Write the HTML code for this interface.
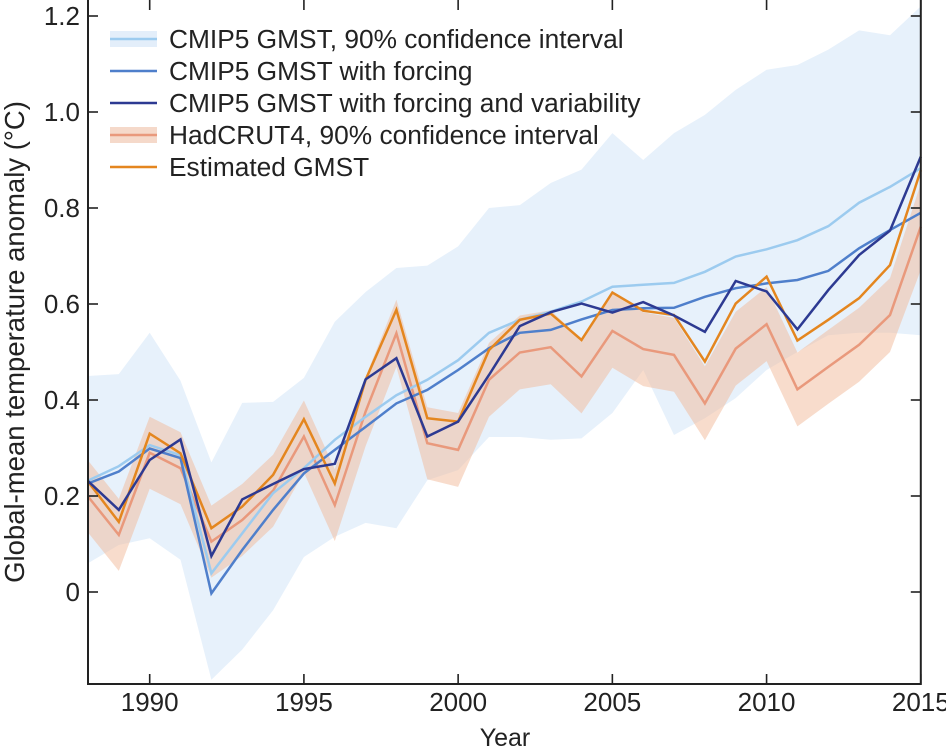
<!DOCTYPE html>
<html><head><meta charset="utf-8"><style>
body{margin:0;background:#fff}
svg{display:block;font-family:"Liberation Sans",Arial,sans-serif}
</style></head><body>
<svg id="chart" width="946" height="747">
<g id="bands"></g>
<g id="lines"></g>
<g id="axes"></g>
<g id="legend"></g>
<text x="505" y="746" font-size="25" text-anchor="middle" fill="#222">Year</text>
<text transform="translate(24,342) rotate(-90)" font-size="27.5" text-anchor="middle" fill="#222">Global-mean temperature anomaly (°C)</text>
</svg>
<script>
const years=[1988,1989,1990,1991,1992,1993,1994,1995,1996,1997,1998,1999,2000,2001,2002,2003,2004,2005,2006,2007,2008,2009,2010,2011,2012,2013,2014,2015];
const cmipMean=[0.232,0.262,0.306,0.285,0.039,0.122,0.206,0.258,0.317,0.365,0.41,0.442,0.483,0.54,0.567,0.584,0.605,0.636,0.64,0.644,0.667,0.699,0.714,0.733,0.762,0.811,0.844,0.883];
const cmipUpper=[0.45,0.454,0.54,0.44,0.27,0.394,0.396,0.446,0.563,0.625,0.675,0.68,0.72,0.80,0.806,0.852,0.88,0.956,0.9,0.956,0.994,1.046,1.088,1.098,1.13,1.17,1.16,1.22];
const cmipLower=[0.06,0.098,0.112,0.067,-0.183,-0.12,-0.038,0.073,0.115,0.144,0.133,0.233,0.254,0.323,0.323,0.317,0.32,0.373,0.4625,0.327,0.362,0.404,0.4625,0.5,0.535,0.54,0.54,0.535];
const forcing=[0.226,0.251,0.299,0.279,-0.003,0.0875,0.171,0.247,0.296,0.344,0.393,0.421,0.4625,0.508,0.54,0.546,0.568,0.5875,0.591,0.592,0.615,0.633,0.643,0.65,0.669,0.716,0.754,0.79];
const forcingVar=[0.231,0.171,0.275,0.318,0.075,0.193,0.225,0.256,0.267,0.443,0.487,0.324,0.355,0.452,0.554,0.583,0.601,0.582,0.604,0.576,0.542,0.648,0.626,0.547,0.629,0.702,0.753,0.907];
const hadcrut=[0.199,0.119,0.29,0.258,0.105,0.15,0.211,0.324,0.181,0.376,0.539,0.31,0.296,0.442,0.499,0.51,0.449,0.544,0.506,0.494,0.393,0.507,0.558,0.422,0.469,0.515,0.577,0.761];
const hadHalf=[0.075,0.075,0.075,0.075,0.075,0.075,0.075,0.075,0.075,0.072,0.07,0.075,0.077,0.077,0.077,0.077,0.077,0.077,0.077,0.077,0.077,0.077,0.077,0.077,0.077,0.077,0.077,0.09];
const estimated=[0.23,0.146,0.33,0.289,0.133,0.178,0.244,0.36,0.226,0.442,0.588,0.362,0.355,0.504,0.567,0.58,0.525,0.624,0.586,0.577,0.48,0.601,0.657,0.524,0.567,0.612,0.681,0.879];
const yTicks=[0,0.2,0.4,0.6,0.8,1.0,1.2];
const yTickLabels=["0","0.2","0.4","0.6","0.8","1.0","1.2"];
const xTicks=[1990,1995,2000,2005,2010,2015];

const NS="http://www.w3.org/2000/svg";
const L=88,R=920.8,T=0,B=684;
function xs(yr){return L+(yr-1988)*(R-L)/27;}
function ys(v){return 592-480*v;}
function mk(tag,attrs,parent){const e=document.createElementNS(NS,tag);for(const k in attrs)e.setAttribute(k,attrs[k]);parent.appendChild(e);return e;}
const bands=document.getElementById('bands'),lines=document.getElementById('lines'),axes=document.getElementById('axes'),legend=document.getElementById('legend');
function bandPath(lo,hi){let d='';years.forEach((y,i)=>{d+=(i?'L':'M')+xs(y).toFixed(1)+','+ys(hi[i]).toFixed(1);});for(let i=years.length-1;i>=0;i--)d+='L'+xs(years[i]).toFixed(1)+','+ys(lo[i]).toFixed(1);return d+'Z';}
function linePath(v){return years.map((y,i)=>(i?'L':'M')+xs(y).toFixed(1)+','+ys(v[i]).toFixed(1)).join('');}
const b1=mk('path',{d:bandPath(cmipLower,cmipUpper),fill:'#e7f1fb'},bands);


const hLo=hadcrut.map((v,i)=>v-hadHalf[i]),hHi=hadcrut.map((v,i)=>v+hadHalf[i]);
const b2=mk('path',{d:bandPath(hLo,hHi),fill:'#f2b999','fill-opacity':'0.5'},bands);


const series=[[hadcrut,'#e9997c','hadcrut4-line'],[cmipMean,'#9ccbef','cmip5-mean-line'],[forcing,'#4f7fcb','cmip5-forcing-line'],[estimated,'#e4861f','estimated-gmst-line'],[forcingVar,'#2d3a92','cmip5-forcing-variability-line']];
series.forEach(s=>{const p=mk('path',{d:linePath(s[0]),fill:'none',stroke:s[1],'stroke-width':2.5,'stroke-linejoin':'miter'},lines);

});
// axes
mk('path',{d:`M${L},${T}V${B}H${R}V${T}`,fill:'none',stroke:'#222','stroke-width':2},axes);
yTicks.forEach((v,i)=>{const y=ys(v);mk('line',{x1:L,x2:L+10,y1:y,y2:y,stroke:'#222','stroke-width':1.6},axes);mk('line',{x1:R,x2:R-10,y1:y,y2:y,stroke:'#222','stroke-width':1.6},axes);
const t=mk('text',{x:L-8,y:y+9,'font-size':26,'text-anchor':'end',fill:'#222'},axes);t.textContent=yTickLabels[i];

});
xTicks.forEach(yr=>{const x=xs(yr);mk('line',{x1:x,x2:x,y1:B,y2:B-10,stroke:'#222','stroke-width':1.6},axes);mk('line',{x1:x,x2:x,y1:0,y2:10,stroke:'#222','stroke-width':1.6},axes);
const t=mk('text',{x:x,y:B+27,'font-size':26,'text-anchor':'middle',fill:'#222'},axes);t.textContent=String(yr);

});
// legend
const leg=[['CMIP5 GMST, 90% confidence interval','#9ccbef','#e3eefa'],['CMIP5 GMST with forcing','#4f7fcb',null],['CMIP5 GMST with forcing and variability','#2d3a92',null],['HadCRUT4, 90% confidence interval','#e9997c','#f5d9ca'],['Estimated GMST','#e4861f',null]];
leg.forEach((e,i)=>{const y=39+i*32;const g=mk('g',{},legend);


if(e[2])mk('rect',{x:110,y:y-8,width:47,height:16,fill:e[2]},g);
mk('line',{x1:110,x2:157,y1:y,y2:y,stroke:e[1],'stroke-width':2.5},g);
const t=mk('text',{x:169,y:y+9,'font-size':26.3,fill:'#222'},g);t.textContent=e[0];});
</script>
</body></html>
